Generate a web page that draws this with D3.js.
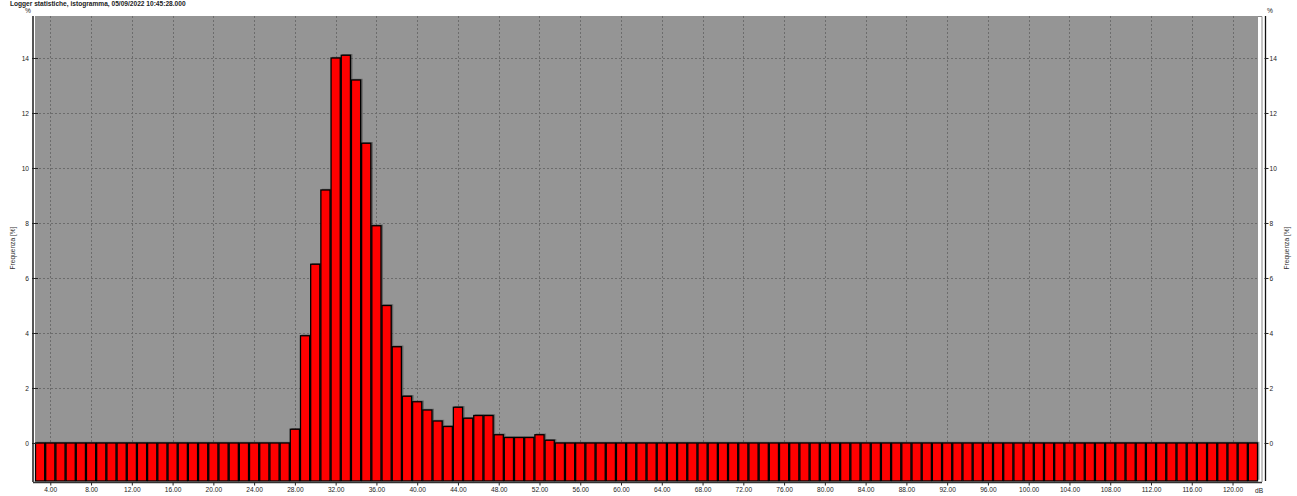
<!DOCTYPE html>
<html>
<head>
<meta charset="utf-8">
<script src="https://cdn.jsdelivr.net/npm/d3@7"></script>
<style>
  body { margin: 0; background: #fff; }
  svg text { font-family: 'Liberation Sans', Arial, sans-serif; }
</style>
</head>
<body>
<div id="chart"></div>
<script>
const chartWidth = 1297
const chartHeight = 496
const plotLeft = 35
const plotRight = 1258
const plotTop = 16
const plotBottom = 481
const bgColor = '#959595'
const gridColor = '#6c6c6c'
const barColor = '#ff0000'

const titleText = 'Logger statistiche, istogramma, 05/09/2022 10:45:28.000'
const yTitle = 'Frequenza [%]'
const xUnit = 'dB'

// classi in dB (una barra per dB)
const levels = [
  3, 4, 5, 6, 7, 8, 9, 10, 11, 12, 13, 14, 15, 16, 17, 18, 19, 20, 21, 22,
  23, 24, 25, 26, 27, 28, 29, 30, 31, 32, 33, 34, 35, 36, 37, 38, 39, 40, 41, 42,
  43, 44, 45, 46, 47, 48, 49, 50, 51, 52, 53, 54, 55, 56, 57, 58, 59, 60, 61, 62,
  63, 64, 65, 66, 67, 68, 69, 70, 71, 72, 73, 74, 75, 76, 77, 78, 79, 80, 81, 82,
  83, 84, 85, 86, 87, 88, 89, 90, 91, 92, 93, 94, 95, 96, 97, 98, 99, 100, 101, 102,
  103, 104, 105, 106, 107, 108, 109, 110, 111, 112, 113, 114, 115, 116, 117, 118, 119, 120, 121, 122,
]

// frequenza [%] per ogni classe
const frequency = [
  0, 0, 0, 0, 0, 0, 0, 0, 0, 0, 0, 0, 0, 0, 0, 0, 0, 0, 0, 0,
  0, 0, 0, 0, 0, 0.5, 3.9, 6.5, 9.2, 14.0, 14.1, 13.2, 10.9, 7.9, 5.0, 3.5, 1.7, 1.5, 1.2, 0.8,
  0.6, 1.3, 0.9, 1.0, 1.0, 0.3, 0.2, 0.2, 0.2, 0.3, 0.1, 0, 0, 0, 0, 0, 0, 0, 0, 0,
  0, 0, 0, 0, 0, 0, 0, 0, 0, 0, 0, 0, 0, 0, 0, 0, 0, 0, 0, 0,
  0, 0, 0, 0, 0, 0, 0, 0, 0, 0, 0, 0, 0, 0, 0, 0, 0, 0, 0, 0,
  0, 0, 0, 0, 0, 0, 0, 0, 0, 0, 0, 0, 0, 0, 0, 0, 0, 0, 0, 0,
]

const xTicks = [4, 8, 12, 16, 20, 24, 28, 32, 36, 40, 44, 48, 52, 56, 60, 64, 68, 72, 76, 80,
  84, 88, 92, 96, 100, 104, 108, 112, 116, 120]
const yTicks = [0, 2, 4, 6, 8, 10, 12, 14]

const x = d3.scaleLinear().domain([2.5, 122.5]).range([plotLeft, plotRight])
const y = d3.scaleLinear().domain([-1.382, 15.527]).range([plotBottom, plotTop])

const svg = d3
  .select('#chart')
  .append('svg')
  .attr('width', chartWidth)
  .attr('height', chartHeight)

// titolo
svg
  .append('text')
  .attr('x', 10)
  .attr('y', 6)
  .attr('font-size', 6.6)
  .attr('font-weight', 'bold')
  .attr('fill', '#222')
  .text(titleText)

// sfondo area grafico
svg
  .append('rect')
  .attr('x', plotLeft)
  .attr('y', plotTop)
  .attr('width', plotRight - plotLeft)
  .attr('height', plotBottom - plotTop)
  .attr('fill', bgColor)

// griglia
const grid = svg.append('g').attr('stroke', gridColor).attr('stroke-width', 1).attr('stroke-dasharray', '2,2')
grid
  .selectAll('.vg')
  .data(xTicks)
  .enter()
  .append('line')
  .attr('x1', d => Math.round(x(d)) + 0.5)
  .attr('x2', d => Math.round(x(d)) + 0.5)
  .attr('y1', plotTop)
  .attr('y2', plotBottom)
grid
  .selectAll('.hg')
  .data(yTicks)
  .enter()
  .append('line')
  .attr('x1', plotLeft)
  .attr('x2', plotRight)
  .attr('y1', d => Math.round(y(d)) + 0.5)
  .attr('y2', d => Math.round(y(d)) + 0.5)

// barre (partono dal fondo dell'asse)
const bars = levels.map((l, i) => ({ level: l, value: frequency[i] }))

svg
  .append('g')
  .selectAll('rect')
  .data(bars)
  .enter()
  .append('rect')
  .attr('x', d => x(d.level - 0.5) + 1.5)
  .attr('y', d => y(d.value) - 1.2)
  .attr('width', d => x(d.level + 0.5) - x(d.level - 0.5))
  .attr('height', d => plotBottom - y(d.value))
  .attr('fill', 'rgba(40,40,40,0.45)')

svg
  .append('g')
  .selectAll('rect')
  .data(bars)
  .enter()
  .append('rect')
  .attr('x', d => x(d.level - 0.5) + 0.5)
  .attr('y', d => y(d.value))
  .attr('width', d => x(d.level + 0.5) - x(d.level - 0.5) - 1)
  .attr('height', d => plotBottom - y(d.value))
  .attr('fill', barColor)
  .attr('stroke', '#000')
  .attr('stroke-width', 1.3)

// asse X
const xAxis = svg
  .append('g')
  .attr('transform', `translate(0,${plotBottom + 1.5})`)
  .call(
    d3
      .axisBottom(x)
      .tickValues(xTicks)
      .tickSize(3)
      .tickFormat(d3.format('.2f'))
  )
xAxis.select('.domain').attr('d', `M${plotLeft - 2},0H${plotRight + 4}`).attr('stroke', '#333').attr('stroke-width', 1.5)
xAxis.selectAll('.tick line').attr('stroke', '#222')
xAxis.selectAll('.tick text').attr('font-size', 6.6).attr('fill', '#222').attr('dy', '0.6em').attr('font-family', null)

svg
  .append('text')
  .attr('x', plotRight - 3)
  .attr('y', 493)
  .attr('font-size', 6.6)
  .attr('fill', '#222')
  .text(xUnit)

// asse Y sinistro
const yLeft = svg
  .append('g')
  .attr('transform', `translate(${plotLeft - 2},0)`)
  .call(d3.axisLeft(y).tickValues(yTicks).tickSize(3).tickPadding(1))
yLeft.select('.domain').attr('d', `M0,${plotTop}V${plotBottom + 1}`).attr('stroke', '#555').attr('stroke-width', 2)
yLeft.selectAll('.tick line').attr('stroke', '#222').attr('x2', 5).attr('x1', -1)
yLeft.selectAll('.tick text').attr('font-size', 6.6).attr('fill', '#222').attr('font-family', null)

// asse Y destro
svg
  .append('path')
  .attr('d', `M${plotRight},${plotTop + 0.5}H${plotRight + 4}V${plotBottom + 1}`)
  .attr('fill', 'none')
  .attr('stroke', '#888')
  .attr('stroke-width', 1)

const yRight = svg
  .append('g')
  .attr('transform', `translate(${plotRight + 7.5},0)`)
  .call(d3.axisRight(y).tickValues(yTicks).tickSize(3).tickPadding(1))
yRight.select('.domain').attr('d', `M0,${plotTop}V${plotBottom}`).attr('stroke', '#111').attr('stroke-width', 1.3)
yRight.selectAll('.tick line').attr('stroke', '#222').attr('x1', -1)
yRight.selectAll('.tick text').attr('font-size', 6.6).attr('fill', '#222').attr('font-family', null)

// unità "%"
svg.append('text').attr('x', 25).attr('y', 13).attr('font-size', 6.6).attr('fill', '#222').text('%')
svg.append('text').attr('x', 1267).attr('y', 13).attr('font-size', 6.6).attr('fill', '#222').text('%')

// titoli asse Y
svg
  .append('text')
  .attr('transform', 'translate(15,248) rotate(-90)')
  .attr('text-anchor', 'middle')
  .attr('font-size', 6.6)
  .attr('fill', '#333')
  .text(yTitle)
svg
  .append('text')
  .attr('transform', 'translate(1289,248) rotate(-90)')
  .attr('text-anchor', 'middle')
  .attr('font-size', 6.6)
  .attr('fill', '#333')
  .text(yTitle)
</script>
</body>
</html>
